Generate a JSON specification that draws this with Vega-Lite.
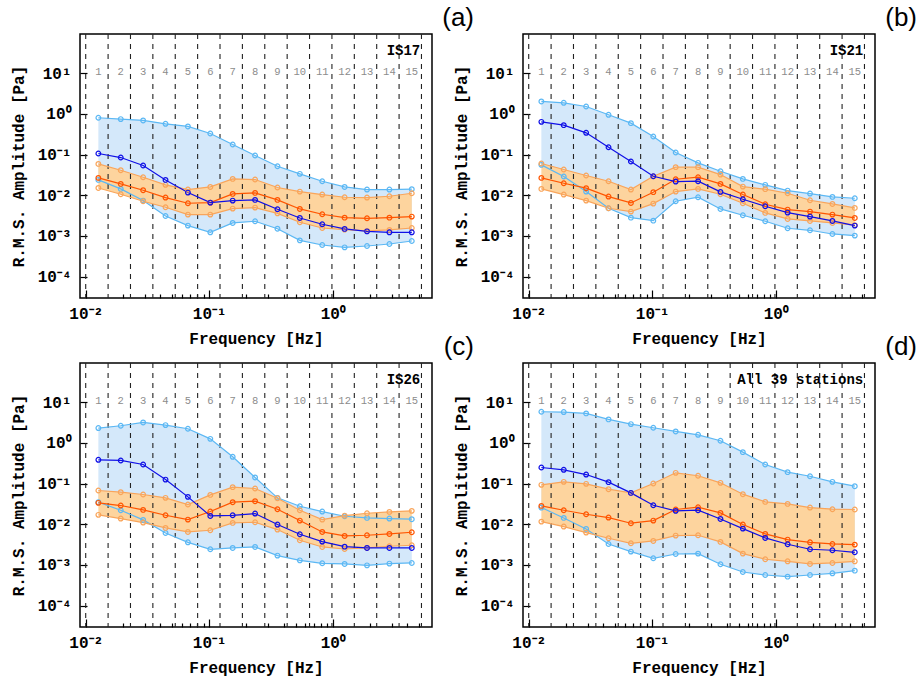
{
  "$schema": "https://vega.github.io/schema/vega-lite/v6.json",
  "padding": {"left": 9, "top": 4, "right": 0, "bottom": 0},
  "background": "white",
  "datasets": {
    "main": [
      {"p":"a","b":1,"f":0.012658,"bu":0.80,"bm":0.106,"bl":0.0238,"ou":0.0589,"om":0.0267,"ol":0.0151},
      {"p":"a","b":2,"f":0.019213,"bu":0.74,"bm":0.0843,"bl":0.0143,"ou":0.0412,"om":0.0190,"ol":0.0106},
      {"p":"a","b":3,"f":0.029160,"bu":0.686,"bm":0.0537,"bl":0.0074,"ou":0.0277,"om":0.0133,"ol":0.00712},
      {"p":"a","b":4,"f":0.044259,"bu":0.568,"bm":0.0238,"bl":0.0031,"ou":0.0180,"om":0.00877,"ol":0.00507},
      {"p":"a","b":5,"f":0.067174,"bu":0.489,"bm":0.01163,"bl":0.0018,"ou":0.0138,"om":0.00636,"ol":0.00335},
      {"p":"a","b":6,"f":0.10195,"bu":0.328,"bm":0.0066,"bl":0.00123,"ou":0.016,"om":0.0066,"ol":0.00335},
      {"p":"a","b":7,"f":0.15474,"bu":0.176,"bm":0.0074,"bl":0.00209,"ou":0.0252,"om":0.0108,"ol":0.0047},
      {"p":"a","b":8,"f":0.23486,"bu":0.0945,"bm":0.00768,"bl":0.0023,"ou":0.0243,"om":0.0114,"ol":0.00497},
      {"p":"a","b":9,"f":0.35645,"bu":0.0516,"bm":0.00453,"bl":0.00151,"ou":0.0155,"om":0.00768,"ol":0.0036},
      {"p":"a","b":10,"f":0.54100,"bu":0.0335,"bm":0.00277,"bl":0.00078,"ou":0.0123,"om":0.00461,"ol":0.00217},
      {"p":"a","b":11,"f":0.82110,"bu":0.0221,"bm":0.00194,"bl":0.0006,"ou":0.0104,"om":0.00341,"ol":0.00157},
      {"p":"a","b":12,"f":1.2462,"bu":0.016,"bm":0.00149,"bl":0.000526,"ou":0.00893,"om":0.00282,"ol":0.00143},
      {"p":"a","b":13,"f":1.8914,"bu":0.0138,"bm":0.0013,"bl":0.000567,"ou":0.00877,"om":0.00272,"ol":0.00133},
      {"p":"a","b":14,"f":2.8708,"bu":0.0138,"bm":0.00123,"bl":0.000635,"ou":0.00945,"om":0.00282,"ol":0.00141},
      {"p":"a","b":15,"f":4.3572,"bu":0.0141,"bm":0.00123,"bl":0.000753,"ou":0.0112,"om":0.00299,"ol":0.00157},

      {"p":"b","b":1,"f":0.012658,"bu":2.01,"bm":0.635,"bl":0.0557,"ou":0.0601,"om":0.0267,"ol":0.0143},
      {"p":"b","b":2,"f":0.019213,"bu":1.86,"bm":0.526,"bl":0.0288,"ou":0.0428,"om":0.0197,"ol":0.0104},
      {"p":"b","b":3,"f":0.029160,"bu":1.51,"bm":0.341,"bl":0.0123,"ou":0.0305,"om":0.0149,"ol":0.0074},
      {"p":"b","b":4,"f":0.044259,"bu":0.944,"bm":0.151,"bl":0.00479,"ou":0.0221,"om":0.00928,"ol":0.00479},
      {"p":"b","b":5,"f":0.067174,"bu":0.589,"bm":0.0673,"bl":0.00282,"ou":0.0138,"om":0.00647,"ol":0.00397},
      {"p":"b","b":6,"f":0.10195,"bu":0.277,"bm":0.0293,"bl":0.00238,"ou":0.0293,"om":0.0119,"ol":0.00624},
      {"p":"b","b":7,"f":0.15474,"bu":0.112,"bm":0.0217,"bl":0.00711,"ou":0.0489,"om":0.0247,"ol":0.0123},
      {"p":"b","b":8,"f":0.23486,"bu":0.0624,"bm":0.0221,"bl":0.00893,"ou":0.0489,"om":0.0277,"ol":0.0143},
      {"p":"b","b":9,"f":0.35645,"bu":0.0389,"bm":0.0121,"bl":0.00461,"ou":0.0322,"om":0.019,"ol":0.0106},
      {"p":"b","b":10,"f":0.54100,"bu":0.0252,"bm":0.00798,"bl":0.00322,"ou":0.0163,"om":0.0104,"ol":0.00636},
      {"p":"b","b":11,"f":0.82110,"bu":0.0180,"bm":0.00537,"bl":0.0023,"ou":0.0141,"om":0.00601,"ol":0.00368},
      {"p":"b","b":12,"f":1.2462,"bu":0.0130,"bm":0.00375,"bl":0.00155,"ou":0.0112,"om":0.00444,"ol":0.00262},
      {"p":"b","b":13,"f":1.8914,"bu":0.0110,"bm":0.00299,"bl":0.00138,"ou":0.00753,"om":0.00397,"ol":0.00234},
      {"p":"b","b":14,"f":2.8708,"bu":0.0091,"bm":0.00234,"bl":0.00112,"ou":0.00612,"om":0.00335,"ol":0.00209},
      {"p":"b","b":15,"f":4.3572,"bu":0.00844,"bm":0.0018,"bl":0.00102,"ou":0.00489,"om":0.00277,"ol":0.00185},

      {"p":"c","b":1,"f":0.012658,"bu":2.30,"bm":0.382,"bl":0.0348,"ou":0.0673,"om":0.0335,"ol":0.0170},
      {"p":"c","b":2,"f":0.019213,"bu":2.62,"bm":0.368,"bl":0.0221,"ou":0.0612,"om":0.0288,"ol":0.0138},
      {"p":"c","b":3,"f":0.029160,"bu":3.16,"bm":0.293,"bl":0.0128,"ou":0.0537,"om":0.0225,"ol":0.011},
      {"p":"c","b":4,"f":0.044259,"bu":2.72,"bm":0.125,"bl":0.00612,"ou":0.0445,"om":0.0166,"ol":0.00813},
      {"p":"c","b":5,"f":0.067174,"bu":2.21,"bm":0.047,"bl":0.0036,"ou":0.0305,"om":0.0130,"ol":0.00647},
      {"p":"c","b":6,"f":0.10195,"bu":1.25,"bm":0.016,"bl":0.00243,"ou":0.0526,"om":0.0205,"ol":0.00711},
      {"p":"c","b":7,"f":0.15474,"bu":0.453,"bm":0.0166,"bl":0.00262,"ou":0.0813,"om":0.0348,"ol":0.0108},
      {"p":"c","b":8,"f":0.23486,"bu":0.141,"bm":0.0183,"bl":0.00277,"ou":0.0754,"om":0.0368,"ol":0.0112},
      {"p":"c","b":9,"f":0.35645,"bu":0.0445,"bm":0.00982,"bl":0.0017,"ou":0.0436,"om":0.0234,"ol":0.0074},
      {"p":"c","b":10,"f":0.54100,"bu":0.0277,"bm":0.00568,"bl":0.0013,"ou":0.0221,"om":0.0123,"ol":0.00404},
      {"p":"c","b":11,"f":0.82110,"bu":0.0205,"bm":0.00375,"bl":0.0011,"ou":0.0130,"om":0.00647,"ol":0.00277},
      {"p":"c","b":12,"f":1.2462,"bu":0.0157,"bm":0.00282,"bl":0.00106,"ou":0.0163,"om":0.00516,"ol":0.00247},
      {"p":"c","b":13,"f":1.8914,"bu":0.0143,"bm":0.00262,"bl":0.00098,"ou":0.0186,"om":0.00537,"ol":0.00262},
      {"p":"c","b":14,"f":2.8708,"bu":0.0138,"bm":0.00262,"bl":0.00108,"ou":0.0201,"om":0.00578,"ol":0.00288},
      {"p":"c","b":15,"f":4.3572,"bu":0.0133,"bm":0.00262,"bl":0.00112,"ou":0.0213,"om":0.00636,"ol":0.00305},

      {"p":"d","b":1,"f":0.012658,"bu":5.78,"bm":0.247,"bl":0.0257,"ou":0.0927,"om":0.0282,"ol":0.0116},
      {"p":"d","b":2,"f":0.019213,"bu":5.68,"bm":0.217,"bl":0.0143,"ou":0.110,"om":0.0221,"ol":0.00877},
      {"p":"d","b":3,"f":0.029160,"bu":5.26,"bm":0.166,"bl":0.00768,"ou":0.0982,"om":0.0176,"ol":0.00624},
      {"p":"d","b":4,"f":0.044259,"bu":3.75,"bm":0.108,"bl":0.00328,"ou":0.0726,"om":0.0146,"ol":0.00453},
      {"p":"d","b":5,"f":0.067174,"bu":2.88,"bm":0.0589,"bl":0.00213,"ou":0.0589,"om":0.0106,"ol":0.00341},
      {"p":"d","b":6,"f":0.10195,"bu":2.34,"bm":0.0293,"bl":0.00146,"ou":0.1,"om":0.0123,"ol":0.00389},
      {"p":"d","b":7,"f":0.15474,"bu":1.90,"bm":0.0213,"bl":0.00186,"ou":0.183,"om":0.023,"ol":0.00526},
      {"p":"d","b":8,"f":0.23486,"bu":1.57,"bm":0.0221,"bl":0.0019,"ou":0.155,"om":0.0262,"ol":0.00537},
      {"p":"d","b":9,"f":0.35645,"bu":1.12,"bm":0.0135,"bl":0.00104,"ou":0.104,"om":0.019,"ol":0.00368},
      {"p":"d","b":10,"f":0.54100,"bu":0.589,"bm":0.00782,"bl":0.000673,"ou":0.0547,"om":0.00982,"ol":0.0019},
      {"p":"d","b":11,"f":0.82110,"bu":0.293,"bm":0.00461,"bl":0.000567,"ou":0.0354,"om":0.00578,"ol":0.00138},
      {"p":"d","b":12,"f":1.2462,"bu":0.190,"bm":0.00322,"bl":0.000516,"ou":0.0316,"om":0.0042,"ol":0.00123},
      {"p":"d","b":13,"f":1.8914,"bu":0.151,"bm":0.00243,"bl":0.000567,"ou":0.0257,"om":0.0036,"ol":0.00106},
      {"p":"d","b":14,"f":2.8708,"bu":0.110,"bm":0.0023,"bl":0.000624,"ou":0.0234,"om":0.00328,"ol":0.00112},
      {"p":"d","b":15,"f":4.3572,"bu":0.0859,"bm":0.00205,"bl":0.000726,"ou":0.0230,"om":0.00316,"ol":0.00123}
    ],
    "edges": [
      {"e":0.01},{"e":0.015176},{"e":0.023031},{"e":0.034953},{"e":0.053046},{"e":0.080505},{"e":0.12218},{"e":0.18542},
      {"e":0.28140},{"e":0.42706},{"e":0.64812},{"e":0.98362},{"e":1.4928},{"e":2.2655},{"e":3.4382},{"e":5.2179}
    ],
    "stations": [
      {"p":"a","t":"IS17"},{"p":"b","t":"IS21"},{"p":"c","t":"IS26"},{"p":"d","t":"All 39 stations"}
    ]
  },
  "columns": 2,
  "spacing": {"row": 65, "column": 91},
  "bounds": "flush",
  "concat": [
    {
      "title": {"text": "(a)"},
      "width": 352, "height": 264,
      "layer": [
        {"data": {"name": "main"}, "transform": [{"filter": "datum.p=='a'"}],
         "mark": {"type": "area", "color": "#D4E8FA", "opacity": 1},
         "encoding": {
           "x": {"field": "f", "type": "quantitative", "scale": {"type": "log", "domain": [0.00899, 6.35], "nice": false},
                 "axis": {"title": "Frequency [Hz]", "values": [0.01,0.02,0.03,0.04,0.05,0.06,0.07,0.08,0.09,0.1,0.2,0.3,0.4,0.5,0.6,0.7,0.8,0.9,1,2,3,4,5],
                          "labelExpr": "datum.value==0.01?'10⁻²':datum.value==0.1?'10⁻¹':datum.value==1?'10⁰':''",
                          "tickSize": {"condition": {"test": "datum.value==0.01||datum.value==0.1||datum.value==1", "value": -8}, "value": -4},
                          "labelPadding": 15, "titlePadding": 9}},
           "y": {"field": "bu", "type": "quantitative", "scale": {"type": "log", "domain": [0.00003, 91], "nice": false},
                 "axis": {"title": "R.M.S. Amplitude [Pa]", "values": [0.0001,0.001,0.01,0.1,1,10],
                          "labelExpr": "datum.value<0.0005?'10⁻⁴':datum.value<0.005?'10⁻³':datum.value<0.05?'10⁻²':datum.value<0.5?'10⁻¹':datum.value<5?'10⁰':'10¹'",
                          "tickSize": -7, "labelPadding": 16, "titlePadding": 11}},
           "y2": {"field": "bl"}
         }},
        {"data": {"name": "main"}, "transform": [{"filter": "datum.p=='a'"}],
         "mark": {"type": "area", "color": "#FDD49E", "opacity": 1},
         "encoding": {"x": {"field": "f", "type": "quantitative"}, "y": {"field": "ou", "type": "quantitative"}, "y2": {"field": "ol"}}},
        {"data": {"name": "edges"}, "mark": {"type": "rule", "strokeDash": [5, 5], "color": "#222222", "strokeWidth": 1.1},
         "encoding": {"x": {"field": "e", "type": "quantitative"}}},
        {"data": {"name": "main"}, "transform": [{"filter": "datum.p=='a'"}],
         "mark": {"type": "text", "fontSize": 10.5, "fill": "#8c8c8c", "baseline": "middle"},
         "encoding": {"x": {"field": "f", "type": "quantitative"}, "y": {"datum": 10.8, "type": "quantitative"}, "text": {"field": "b", "type": "nominal"}}},
        {"data": {"name": "main"}, "transform": [{"filter": "datum.p=='a'"}, {"fold": ["bu","bl","ou","ol","om","bm"], "as": ["s","v"]}],
         "encoding": {"x": {"field": "f", "type": "quantitative"}, "y": {"field": "v", "type": "quantitative"},
                      "color": {"field": "s", "type": "nominal", "legend": null, "scale": {"domain": ["bu","bl","ou","ol","om","bm"], "range": ["#5CB8F4","#5CB8F4","#F9A55B","#F9A55B","#FF5500","#1010E6"]}}},
         "layer": [
           {"mark": {"type": "line", "strokeWidth": 1.2}},
           {"mark": {"type": "point", "filled": false, "size": 22, "strokeWidth": 1.2, "opacity": 1}}
         ]},
        {"data": {"name": "stations"}, "transform": [{"filter": "datum.p=='a'"}],
         "mark": {"type": "text", "align": "right", "baseline": "middle", "fontSize": 14, "fontWeight": "bold", "fill": "#000"},
         "encoding": {"x": {"datum": 5.1, "type": "quantitative"}, "y": {"datum": 34, "type": "quantitative"}, "text": {"field": "t", "type": "nominal"}}}
      ]
    },
    {
      "title": {"text": "(b)"},
      "width": 352, "height": 264,
      "layer": [
        {"data": {"name": "main"}, "transform": [{"filter": "datum.p=='b'"}],
         "mark": {"type": "area", "color": "#D4E8FA", "opacity": 1},
         "encoding": {
           "x": {"field": "f", "type": "quantitative", "scale": {"type": "log", "domain": [0.00899, 6.35], "nice": false},
                 "axis": {"title": "Frequency [Hz]", "values": [0.01,0.02,0.03,0.04,0.05,0.06,0.07,0.08,0.09,0.1,0.2,0.3,0.4,0.5,0.6,0.7,0.8,0.9,1,2,3,4,5],
                          "labelExpr": "datum.value==0.01?'10⁻²':datum.value==0.1?'10⁻¹':datum.value==1?'10⁰':''",
                          "tickSize": {"condition": {"test": "datum.value==0.01||datum.value==0.1||datum.value==1", "value": -8}, "value": -4},
                          "labelPadding": 15, "titlePadding": 9}},
           "y": {"field": "bu", "type": "quantitative", "scale": {"type": "log", "domain": [0.00003, 91], "nice": false},
                 "axis": {"title": "R.M.S. Amplitude [Pa]", "values": [0.0001,0.001,0.01,0.1,1,10],
                          "labelExpr": "datum.value<0.0005?'10⁻⁴':datum.value<0.005?'10⁻³':datum.value<0.05?'10⁻²':datum.value<0.5?'10⁻¹':datum.value<5?'10⁰':'10¹'",
                          "tickSize": -7, "labelPadding": 16, "titlePadding": 11}},
           "y2": {"field": "bl"}
         }},
        {"data": {"name": "main"}, "transform": [{"filter": "datum.p=='b'"}],
         "mark": {"type": "area", "color": "#FDD49E", "opacity": 1},
         "encoding": {"x": {"field": "f", "type": "quantitative"}, "y": {"field": "ou", "type": "quantitative"}, "y2": {"field": "ol"}}},
        {"data": {"name": "edges"}, "mark": {"type": "rule", "strokeDash": [5, 5], "color": "#222222", "strokeWidth": 1.1},
         "encoding": {"x": {"field": "e", "type": "quantitative"}}},
        {"data": {"name": "main"}, "transform": [{"filter": "datum.p=='b'"}],
         "mark": {"type": "text", "fontSize": 10.5, "fill": "#8c8c8c", "baseline": "middle"},
         "encoding": {"x": {"field": "f", "type": "quantitative"}, "y": {"datum": 10.8, "type": "quantitative"}, "text": {"field": "b", "type": "nominal"}}},
        {"data": {"name": "main"}, "transform": [{"filter": "datum.p=='b'"}, {"fold": ["bu","bl","ou","ol","om","bm"], "as": ["s","v"]}],
         "encoding": {"x": {"field": "f", "type": "quantitative"}, "y": {"field": "v", "type": "quantitative"},
                      "color": {"field": "s", "type": "nominal", "legend": null, "scale": {"domain": ["bu","bl","ou","ol","om","bm"], "range": ["#5CB8F4","#5CB8F4","#F9A55B","#F9A55B","#FF5500","#1010E6"]}}},
         "layer": [
           {"mark": {"type": "line", "strokeWidth": 1.2}},
           {"mark": {"type": "point", "filled": false, "size": 22, "strokeWidth": 1.2, "opacity": 1}}
         ]},
        {"data": {"name": "stations"}, "transform": [{"filter": "datum.p=='b'"}],
         "mark": {"type": "text", "align": "right", "baseline": "middle", "fontSize": 14, "fontWeight": "bold", "fill": "#000"},
         "encoding": {"x": {"datum": 5.1, "type": "quantitative"}, "y": {"datum": 34, "type": "quantitative"}, "text": {"field": "t", "type": "nominal"}}}
      ]
    },
    {
      "title": {"text": "(c)"},
      "width": 352, "height": 264,
      "layer": [
        {"data": {"name": "main"}, "transform": [{"filter": "datum.p=='c'"}],
         "mark": {"type": "area", "color": "#D4E8FA", "opacity": 1},
         "encoding": {
           "x": {"field": "f", "type": "quantitative", "scale": {"type": "log", "domain": [0.00899, 6.35], "nice": false},
                 "axis": {"title": "Frequency [Hz]", "values": [0.01,0.02,0.03,0.04,0.05,0.06,0.07,0.08,0.09,0.1,0.2,0.3,0.4,0.5,0.6,0.7,0.8,0.9,1,2,3,4,5],
                          "labelExpr": "datum.value==0.01?'10⁻²':datum.value==0.1?'10⁻¹':datum.value==1?'10⁰':''",
                          "tickSize": {"condition": {"test": "datum.value==0.01||datum.value==0.1||datum.value==1", "value": -8}, "value": -4},
                          "labelPadding": 15, "titlePadding": 9}},
           "y": {"field": "bu", "type": "quantitative", "scale": {"type": "log", "domain": [0.00003, 91], "nice": false},
                 "axis": {"title": "R.M.S. Amplitude [Pa]", "values": [0.0001,0.001,0.01,0.1,1,10],
                          "labelExpr": "datum.value<0.0005?'10⁻⁴':datum.value<0.005?'10⁻³':datum.value<0.05?'10⁻²':datum.value<0.5?'10⁻¹':datum.value<5?'10⁰':'10¹'",
                          "tickSize": -7, "labelPadding": 16, "titlePadding": 11}},
           "y2": {"field": "bl"}
         }},
        {"data": {"name": "main"}, "transform": [{"filter": "datum.p=='c'"}],
         "mark": {"type": "area", "color": "#FDD49E", "opacity": 1},
         "encoding": {"x": {"field": "f", "type": "quantitative"}, "y": {"field": "ou", "type": "quantitative"}, "y2": {"field": "ol"}}},
        {"data": {"name": "edges"}, "mark": {"type": "rule", "strokeDash": [5, 5], "color": "#222222", "strokeWidth": 1.1},
         "encoding": {"x": {"field": "e", "type": "quantitative"}}},
        {"data": {"name": "main"}, "transform": [{"filter": "datum.p=='c'"}],
         "mark": {"type": "text", "fontSize": 10.5, "fill": "#8c8c8c", "baseline": "middle"},
         "encoding": {"x": {"field": "f", "type": "quantitative"}, "y": {"datum": 10.8, "type": "quantitative"}, "text": {"field": "b", "type": "nominal"}}},
        {"data": {"name": "main"}, "transform": [{"filter": "datum.p=='c'"}, {"fold": ["bu","bl","ou","ol","om","bm"], "as": ["s","v"]}],
         "encoding": {"x": {"field": "f", "type": "quantitative"}, "y": {"field": "v", "type": "quantitative"},
                      "color": {"field": "s", "type": "nominal", "legend": null, "scale": {"domain": ["bu","bl","ou","ol","om","bm"], "range": ["#5CB8F4","#5CB8F4","#F9A55B","#F9A55B","#FF5500","#1010E6"]}}},
         "layer": [
           {"mark": {"type": "line", "strokeWidth": 1.2}},
           {"mark": {"type": "point", "filled": false, "size": 22, "strokeWidth": 1.2, "opacity": 1}}
         ]},
        {"data": {"name": "stations"}, "transform": [{"filter": "datum.p=='c'"}],
         "mark": {"type": "text", "align": "right", "baseline": "middle", "fontSize": 14, "fontWeight": "bold", "fill": "#000"},
         "encoding": {"x": {"datum": 5.1, "type": "quantitative"}, "y": {"datum": 34, "type": "quantitative"}, "text": {"field": "t", "type": "nominal"}}}
      ]
    },
    {
      "title": {"text": "(d)"},
      "width": 352, "height": 264,
      "layer": [
        {"data": {"name": "main"}, "transform": [{"filter": "datum.p=='d'"}],
         "mark": {"type": "area", "color": "#D4E8FA", "opacity": 1},
         "encoding": {
           "x": {"field": "f", "type": "quantitative", "scale": {"type": "log", "domain": [0.00899, 6.35], "nice": false},
                 "axis": {"title": "Frequency [Hz]", "values": [0.01,0.02,0.03,0.04,0.05,0.06,0.07,0.08,0.09,0.1,0.2,0.3,0.4,0.5,0.6,0.7,0.8,0.9,1,2,3,4,5],
                          "labelExpr": "datum.value==0.01?'10⁻²':datum.value==0.1?'10⁻¹':datum.value==1?'10⁰':''",
                          "tickSize": {"condition": {"test": "datum.value==0.01||datum.value==0.1||datum.value==1", "value": -8}, "value": -4},
                          "labelPadding": 15, "titlePadding": 9}},
           "y": {"field": "bu", "type": "quantitative", "scale": {"type": "log", "domain": [0.00003, 91], "nice": false},
                 "axis": {"title": "R.M.S. Amplitude [Pa]", "values": [0.0001,0.001,0.01,0.1,1,10],
                          "labelExpr": "datum.value<0.0005?'10⁻⁴':datum.value<0.005?'10⁻³':datum.value<0.05?'10⁻²':datum.value<0.5?'10⁻¹':datum.value<5?'10⁰':'10¹'",
                          "tickSize": -7, "labelPadding": 16, "titlePadding": 11}},
           "y2": {"field": "bl"}
         }},
        {"data": {"name": "main"}, "transform": [{"filter": "datum.p=='d'"}],
         "mark": {"type": "area", "color": "#FDD49E", "opacity": 1},
         "encoding": {"x": {"field": "f", "type": "quantitative"}, "y": {"field": "ou", "type": "quantitative"}, "y2": {"field": "ol"}}},
        {"data": {"name": "edges"}, "mark": {"type": "rule", "strokeDash": [5, 5], "color": "#222222", "strokeWidth": 1.1},
         "encoding": {"x": {"field": "e", "type": "quantitative"}}},
        {"data": {"name": "main"}, "transform": [{"filter": "datum.p=='d'"}],
         "mark": {"type": "text", "fontSize": 10.5, "fill": "#8c8c8c", "baseline": "middle"},
         "encoding": {"x": {"field": "f", "type": "quantitative"}, "y": {"datum": 10.8, "type": "quantitative"}, "text": {"field": "b", "type": "nominal"}}},
        {"data": {"name": "main"}, "transform": [{"filter": "datum.p=='d'"}, {"fold": ["bu","bl","ou","ol","om","bm"], "as": ["s","v"]}],
         "encoding": {"x": {"field": "f", "type": "quantitative"}, "y": {"field": "v", "type": "quantitative"},
                      "color": {"field": "s", "type": "nominal", "legend": null, "scale": {"domain": ["bu","bl","ou","ol","om","bm"], "range": ["#5CB8F4","#5CB8F4","#F9A55B","#F9A55B","#FF5500","#1010E6"]}}},
         "layer": [
           {"mark": {"type": "line", "strokeWidth": 1.2}},
           {"mark": {"type": "point", "filled": false, "size": 22, "strokeWidth": 1.2, "opacity": 1}}
         ]},
        {"data": {"name": "stations"}, "transform": [{"filter": "datum.p=='d'"}],
         "mark": {"type": "text", "align": "right", "baseline": "middle", "fontSize": 14, "fontWeight": "bold", "fill": "#000"},
         "encoding": {"x": {"datum": 5.1, "type": "quantitative"}, "y": {"datum": 34, "type": "quantitative"}, "text": {"field": "t", "type": "nominal"}}}
      ]
    }
  ],
  "config": {
    "font": "Liberation Mono",
    "view": {"stroke": "#000000", "strokeWidth": 1.5},
    "axis": {"grid": false, "domain": false, "tickColor": "#000000", "tickWidth": 1.2,
             "labelFont": "Liberation Mono", "labelFontSize": 16, "labelFontWeight": "bold", "labelColor": "#000000",
             "titleFont": "Liberation Mono", "titleFontSize": 16, "titleFontWeight": "bold", "titleColor": "#000000"},
    "text": {"font": "Liberation Mono"},
    "title": {"anchor": "end", "frame": "group", "dx": 42, "offset": 2, "font": "Liberation Sans", "fontSize": 26, "fontWeight": "normal", "color": "#000000"}
  }
}
